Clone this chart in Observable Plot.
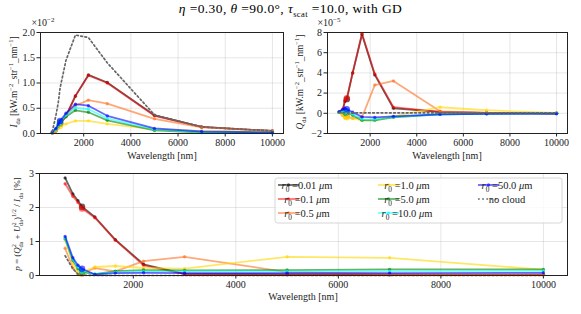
<!DOCTYPE html>
<html><head><meta charset="utf-8">
<script src="https://cdn.jsdelivr.net/npm/d3@7"></script>
<script src="https://cdn.jsdelivr.net/npm/@observablehq/plot@0.6"></script>
<style>
body{margin:0;background:#fff;}
#wrap{position:relative;width:581px;height:314px;font-family:"Liberation Serif",serif;}
#wrap svg{position:absolute;overflow:visible;}
#title{position:absolute;left:0;width:581px;top:0;text-align:center;font-size:13.5px;line-height:17px;letter-spacing:0.4px;}
</style></head>
<body><div id="wrap"><div id="title"><i>η</i> =0.30, <i>θ</i> =90.0°, <i>τ</i><sub style="font-size:8.5px">scat</sub> =10.0, with GD</div></div>
<script>
// wavelengths [nm]
const wavelengths = [670, 820, 920, 1000, 1250, 1650, 2200, 3000, 5000, 7000, 10000];
const seriesLabels = ["0.01", "0.1", "0.5", "1.0", "5.0", "10.0", "50.0"];
const seriesColors = ["#000000", "#ff0000", "#ff7020", "#ffd700", "#008000", "#00ffff", "#0000ff"];
const seriesOpacity = [0.6, 0.55, 0.6, 0.6, 0.6, 0.55, 0.6];

// I_da (x 1e-2)
const I_r001 = [0.01, 0.05, 0.12, 0.20, 0.35, 0.74, 1.16, 1.01, 0.36, 0.13, 0.05];
const I_r01  = [0.01, 0.05, 0.12, 0.19, 0.34, 0.75, 1.15, 1.00, 0.35, 0.13, 0.05];
const I_r05  = [0.01, 0.06, 0.14, 0.22, 0.37, 0.55, 0.66, 0.59, 0.29, 0.12, 0.05];
const I_r1   = [0.01, 0.05, 0.11, 0.15, 0.19, 0.25, 0.25, 0.19, 0.08, 0.05, 0.04];
const I_r5   = [0.02, 0.08, 0.15, 0.22, 0.33, 0.46, 0.42, 0.26, 0.06, 0.02, 0.01];
const I_r10  = [0.02, 0.08, 0.16, 0.23, 0.36, 0.51, 0.48, 0.30, 0.08, 0.03, 0.02];
const I_r50  = [0.03, 0.10, 0.18, 0.25, 0.40, 0.58, 0.55, 0.35, 0.10, 0.04, 0.02];
const I_noCloud = [0.04, 0.35, 0.60, 0.90, 1.45, 1.95, 1.90, 1.40, 0.37, 0.13, 0.05];

// Q_da (x 1e-5)
const Q_r001 = [0.1, 0.3, 1.2, 1.4, 4.0, 7.8, 3.8, 0.5, 0.15, 0.05, 0.0];
const Q_r01  = [0.1, 0.3, 1.3, 1.5, 4.0, 7.9, 3.9, 0.6, 0.15, 0.05, 0.0];
const Q_r05  = [0.1, -0.2, -0.4, -0.3, -0.5, -0.4, 2.8, 3.2, 0.2, 0.05, 0.0];
const Q_r1   = [0.1, -0.2, -0.5, -0.4, -0.5, -0.7, -0.6, -0.3, 0.6, 0.3, 0.05];
const Q_r5   = [0.1, 0.1, -0.1, 0.1, -0.2, -0.7, -0.7, -0.4, -0.1, -0.05, 0.0];
const Q_r10  = [0.1, 0.2, 0.0, 0.2, -0.1, -0.6, -0.6, -0.35, -0.1, -0.05, 0.0];
const Q_r50  = [0.15, 0.4, 0.5, 0.4, 0.1, -0.35, -0.4, -0.3, -0.1, -0.05, -0.05];
const Q_noCloud = [0.1, 0.1, 0.05, 0.05, 0.05, 0.05, 0.05, 0.05, 0.05, 0.05, 0.05];

// p [%]
const P_r001 = [2.87, 2.40, 2.20, 2.02, 1.72, 1.05, 0.33, 0.05, 0.03, 0.02, 0.02];
const P_r01  = [2.70, 2.33, 2.15, 1.97, 1.70, 1.04, 0.30, 0.04, 0.02, 0.02, 0.02];
const P_r05  = [0.80, 0.22, 0.03, 0.05, 0.22, 0.12, 0.42, 0.55, 0.10, 0.05, 0.03];
const P_r1   = [1.05, 0.35, 0.10, 0.10, 0.25, 0.28, 0.22, 0.20, 0.55, 0.52, 0.17];
const P_r5   = [1.08, 0.45, 0.20, 0.10, 0.04, 0.13, 0.16, 0.15, 0.16, 0.18, 0.18];
const P_r10  = [1.10, 0.48, 0.25, 0.14, 0.04, 0.10, 0.12, 0.12, 0.12, 0.13, 0.14];
const P_r50  = [1.15, 0.52, 0.30, 0.20, 0.03, 0.07, 0.08, 0.07, 0.07, 0.07, 0.08];
const P_noCloud = [0.58, 0.20, 0.04, 0.01, 0.0, 0.0, 0.0, 0.0, 0.0, 0.0, 0.0];

const xTicks = [2000, 4000, 6000, 8000, 10000];

const FONT = '"Liberation Serif", serif';
const wrap = d3.select("#wrap");

function toRows(arr){ return arr.map((v,i)=>({wl: wavelengths[i], v})); }

function rich(sel, parts, fs){
  let shift = 0;
  for (const p of parts){
    const [t, kind, dx] = p;
    const ts = sel.append("tspan").text(t);
    const target = kind==="sub" ? fs*0.3 : kind==="sup" ? -fs*0.42 : 0;
    ts.attr("dy", target - shift); shift = target;
    if (kind==="sub"||kind==="sup") ts.attr("font-size", fs*0.7);
    if (kind==="i") ts.attr("font-style","italic");
    if (dx) ts.attr("dx", dx);
  }
}

function panel(o){
  const marks = [
    Plot.gridX(xTicks, {stroke:"#b0b0b0", strokeOpacity:0.4, strokeWidth:0.8}),
    Plot.gridY(o.yTicks, {stroke:"#b0b0b0", strokeOpacity:0.4, strokeWidth:0.8})
  ];
  o.series.forEach((arr,i)=>{
    const rows = toRows(arr);
    marks.push(Plot.line(rows, {x:"wl", y:"v", stroke: seriesColors[i], strokeOpacity: seriesOpacity[i], strokeWidth:1.8}));
    marks.push(Plot.dot(rows, {x:"wl", y:"v", fill: seriesColors[i], fillOpacity: seriesOpacity[i], r: d => d.wl===1000 ? 3.2 : 1.7}));
  });
  marks.push(Plot.line(toRows(o.noCloud), {x:"wl", y:"v", stroke:"#666", strokeWidth:1.7, strokeDasharray:"1.7,2.5"}));
  marks.push(Plot.frame({stroke:"#222", strokeWidth:1}));
  const svg = Plot.plot({
    width:o.width, height:o.height,
    marginLeft:o.ml, marginRight:o.mr, marginTop:o.mt, marginBottom:o.mb,
    style:{fontFamily:FONT, fontSize:"10px", color:"#222", background:"transparent"},
    x:{domain:[170,10470], ticks:xTicks, tickFormat:d=>String(d), tickSize:3.5, label:null, tickPadding:2},
    y:{domain:o.yDomain, ticks:o.yTicks, tickFormat:o.yFmt, tickSize:3.5, label:null, tickPadding:2},
    r:{type:"identity"},
    marks
  });
  const s = d3.select(svg).style("left", o.left+"px").style("top", o.top+"px");
  wrap.node().appendChild(svg);
  return s;
}

// Top-left: I_da
const s1 = panel({left:0, top:0, width:290, height:162, ml:40, mr:7, mt:32, mb:29,
  yDomain:[0,2], yTicks:[0,0.5,1,1.5,2], yFmt:d=>d.toFixed(1),
  series:[I_r001,I_r01,I_r05,I_r1,I_r5,I_r10,I_r50], noCloud:I_noCloud});
s1.append("text").attr("x",43).attr("y",26).attr("font-size",10).attr("font-family",FONT).call(t=>rich(t,[["×10",""],["−2","sup"]],10));
s1.append("text").attr("x",162).attr("y",159).attr("text-anchor","middle").attr("font-size",10).attr("font-family",FONT).text("Wavelength [nm]");
s1.append("text").attr("transform","translate(17,82) rotate(-90)").attr("text-anchor","middle").attr("font-size",9.3).attr("font-family",FONT)
  .call(t=>rich(t,[["I","i"],["da","sub"],[" [kW.m",""],["−2","sup"],["_str",""],["−1","sup"],["_nm",""],["−1","sup"],["]",""]],9.3));

// Top-right: Q_da
const s2 = panel({left:290, top:0, width:291, height:162, ml:37, mr:14, mt:32, mb:29,
  yDomain:[-2,8], yTicks:[-2,0,2,4,6,8], yFmt:d=>d3.format("d")(d).replace("-","−"),
  series:[Q_r001,Q_r01,Q_r05,Q_r1,Q_r5,Q_r10,Q_r50], noCloud:Q_noCloud});
s2.append("text").attr("x",39).attr("y",26).attr("font-size",10).attr("font-family",FONT).call(t=>rich(t,[["×10",""],["−5","sup"]],10));
s2.append("text").attr("x",157).attr("y",159).attr("text-anchor","middle").attr("font-size",10).attr("font-family",FONT).text("Wavelength [nm]");
s2.append("text").attr("transform","translate(13,82) rotate(-90)").attr("text-anchor","middle").attr("font-size",9.3).attr("font-family",FONT)
  .call(t=>rich(t,[["Q","i"],["da","sub"],[" [kW.m",""],["−2","sup"],["_str",""],["−1","sup"],["_nm",""],["−1","sup"],["]",""]],9.3));

// Bottom: p
const s3 = panel({left:0, top:162, width:581, height:152, ml:39, mr:14, mt:11, mb:39,
  yDomain:[0,3], yTicks:[0,1,2,3], yFmt:d=>String(d),
  series:[P_r001,P_r01,P_r05,P_r1,P_r5,P_r10,P_r50], noCloud:P_noCloud});
s3.append("text").attr("x",303).attr("y",138).attr("text-anchor","middle").attr("font-size",10).attr("font-family",FONT).text("Wavelength [nm]");
s3.append("text").attr("transform","translate(20,62) rotate(-90)").attr("text-anchor","middle").attr("font-size",9).attr("font-family",FONT)
  .call(t=>rich(t,[["p","i"],[" = (",""],["Q","i"],["2","sup"],["da","sub",-3.6],[" + ",""],["U","i"],["2","sup"],["da","sub",-3.6],[")",""],["1/2","sup"],[" / ",""],["I","i"],["da","sub"],[" [%]",""]],9));

// Legend
const lg = s3.append("g").attr("font-family",FONT).attr("font-size",10.5);
lg.append("rect").attr("x",275).attr("y",16).attr("width",287).attr("height",45).attr("rx",2.5)
  .attr("fill","#fff").attr("fill-opacity",0.8).attr("stroke","#ccc").attr("stroke-width",0.8);
const cols = [278, 378, 478];
const items = seriesLabels.map((l,i)=>({label:l, i}));
const pos = [[0,0],[0,1],[0,2],[1,0],[1,1],[1,2],[2,0]];
items.forEach((it,k)=>{
  const [c,r] = pos[k]; const x0 = cols[c], y = 23 + r*14;
  lg.append("line").attr("x1",x0).attr("x2",x0+21).attr("y1",y).attr("y2",y)
    .attr("stroke",seriesColors[it.i]).attr("stroke-opacity",seriesOpacity[it.i]).attr("stroke-width",1.8);
  lg.append("circle").attr("cx",x0+10.5).attr("cy",y).attr("r",1.7).attr("fill",seriesColors[it.i]).attr("fill-opacity",seriesOpacity[it.i]);
  lg.append("text").attr("x",x0+29).attr("y",y+3.5)
    .call(t=>rich(t,[["r","i"],["0","sub"],[" ="+it.label+" ",""],["μ","i"],["m",""]],10.5));
});
{
  const x0 = cols[2], y = 37;
  lg.append("line").attr("x1",x0).attr("x2",x0+21).attr("y1",y).attr("y2",y)
    .attr("stroke","#666").attr("stroke-width",1.7).attr("stroke-dasharray","1.7,2.5");
  lg.append("text").attr("x",x0+29).attr("y",y+3.5).text("no cloud");
}
</script>
</body></html>
